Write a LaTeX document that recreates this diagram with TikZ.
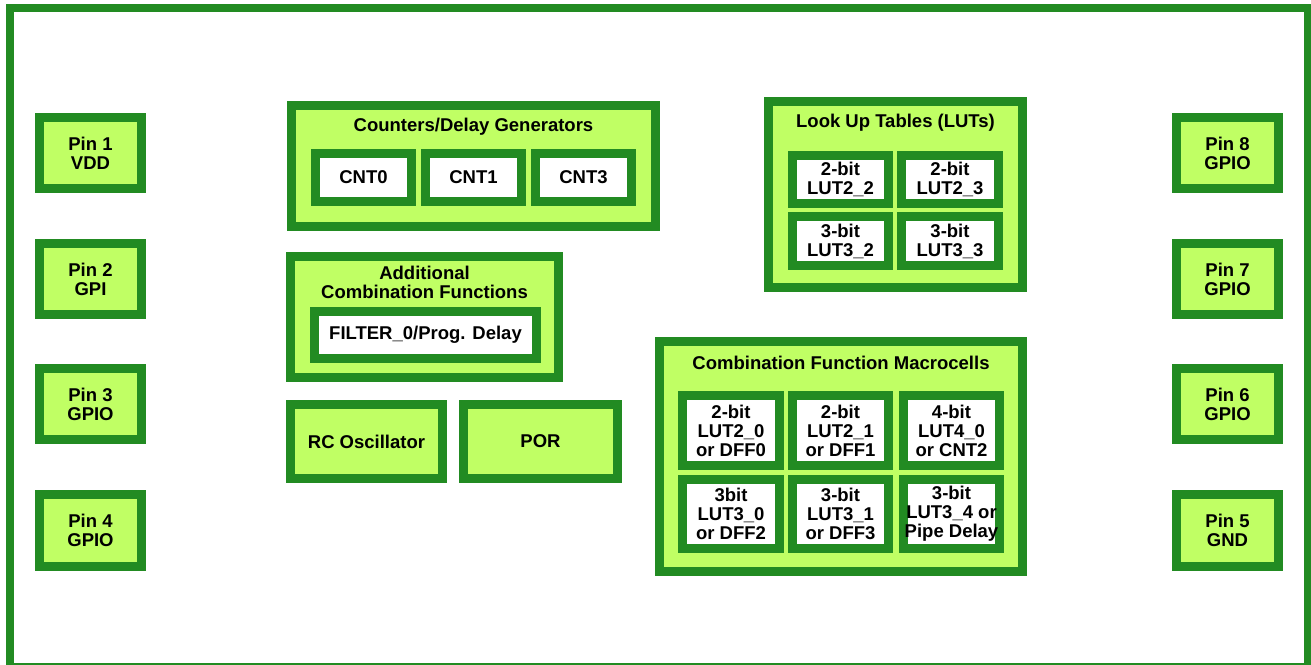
\documentclass[tikz,border=0pt]{standalone}
\usepackage{fontspec}
\setmainfont{Liberation Sans}
\definecolor{dg}{RGB}{34,139,34}
\definecolor{lg}{RGB}{192,255,100}
\newcommand\lbl{\bfseries\fontsize{18.5}{19}\selectfont}
\tikzset{
  grpbox/.style={draw=dg, line width=9pt, fill=lg, inner sep=0pt, font=\lbl, align=center},
  cellbox/.style={draw=dg, line width=9pt, fill=white, inner sep=0pt, font=\lbl, align=center},
  ttl/.style={inner sep=0pt, font=\lbl, align=center},
}
\newcommand\blk[7]{\node[#1, minimum width={#5-#3-9}, minimum height={#6-#4-9}] (#2) at ({(#3+#5)/2},{(#4+#6)/2}) {#7};}
\begin{document}
\begin{tikzpicture}[x=1pt,y=-1pt]
\useasboundingbox (0,0) rectangle (1311,664);
\draw[dg, line width=8pt] (9.5,7.5) rectangle (1307.5,666.5);
% pins
\blk{grpbox}{p1}{35}{113}{146}{193}{Pin 1\\VDD}
\blk{grpbox}{p2}{35}{239}{146}{319}{Pin 2\\GPI}
\blk{grpbox}{p3}{35}{364}{146}{444}{Pin 3\\GPIO}
\blk{grpbox}{p4}{35}{490}{146}{571}{Pin 4\\GPIO}
\blk{grpbox}{p8}{1172}{113}{1283}{193}{Pin 8\\GPIO}
\blk{grpbox}{p7}{1172}{239}{1283}{319}{Pin 7\\GPIO}
\blk{grpbox}{p6}{1172}{364}{1283}{444}{Pin 6\\GPIO}
\blk{grpbox}{p5}{1172}{490}{1283}{571}{Pin 5\\GND}
% counters
\blk{grpbox}{cnt}{287}{101}{660}{231}{}
\node[ttl] (cntt) at (473.5,127) {Counters/Delay Generators};
\blk{cellbox}{c0}{311}{149}{416}{206}{CNT0}
\blk{cellbox}{c1}{421}{149}{526}{206}{CNT1}
\blk{cellbox}{c3}{531}{149}{636}{206}{CNT3}
% LUTs
\blk{grpbox}{lut}{764}{97}{1027}{292}{}
\node[ttl] (lutt) at (895.5,123) {Look Up Tables (LUTs)};
\blk{cellbox}{l22}{788}{151}{893}{208}{2-bit\\LUT2\_2}
\blk{cellbox}{l23}{897}{151}{1003}{208}{2-bit\\LUT2\_3}
\blk{cellbox}{l32}{788}{212}{893}{270}{3-bit\\LUT3\_2}
\blk{cellbox}{l33}{897}{212}{1003}{270}{3-bit\\LUT3\_3}
% additional
\blk{grpbox}{add}{286}{252}{563}{382}{}
\node[ttl] (addt) at (424.5,282.5) {Additional\\Combination Functions};
\blk{cellbox}{flt}{310}{307}{541}{363}{FILTER\_0/Prog. Delay}
% RC and POR
\blk{grpbox}{rc}{286}{400}{447}{483}{RC Oscillator}
\blk{grpbox}{por}{459}{400}{622}{483}{POR}
% macrocells
\blk{grpbox}{mac}{655}{337}{1027}{576}{}
\node[ttl] (mact) at (841,363) {Combination Function Macrocells};
\blk{cellbox}{m1}{678}{391}{784}{470}{2-bit\\LUT2\_0\\or DFF0}
\blk{cellbox}{m2}{788}{391}{893}{470}{2-bit\\LUT2\_1\\or DFF1}
\blk{cellbox}{m3}{899}{391}{1004}{470}{4-bit\\LUT4\_0\\or CNT2}
\blk{cellbox}{m4}{678}{475}{784}{553}{3bit\\LUT3\_0\\or DFF2}
\blk{cellbox}{m5}{788}{475}{893}{553}{3-bit\\LUT3\_1\\or DFF3}
\blk{cellbox}{m6}{899}{475}{1004}{553}{3-bit\\LUT3\_4 or\\Pipe Delay}
\end{tikzpicture}
\end{document}
